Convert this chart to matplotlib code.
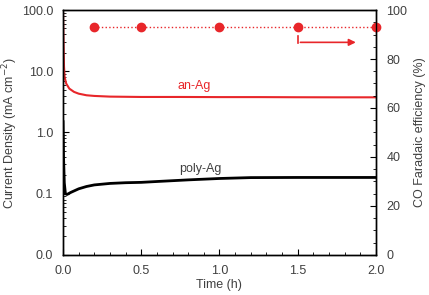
import matplotlib
matplotlib.use("Agg")
import matplotlib.pyplot as plt
from matplotlib.ticker import FixedLocator, LogLocator, MultipleLocator, NullFormatter

plt.rcParams['font.family'] = ['Liberation Sans', 'DejaVu Sans']
plt.rcParams['font.size'] = 9

# current density vs time (mA cm-2)
an_t = [0, 0.003, 0.006, 0.01, 0.02, 0.04, 0.07, 0.1, 0.15, 0.2, 0.3, 0.5, 0.75, 1.0, 1.25, 1.5, 1.75, 2.0]
an_j = [90, 30, 12, 8, 6.3, 5.2, 4.6, 4.3, 4.05, 3.95, 3.85, 3.8, 3.8, 3.78, 3.78, 3.76, 3.75, 3.75]

poly_t = [0, 0.003, 0.008, 0.015, 0.025, 0.05, 0.1, 0.15, 0.2, 0.3, 0.4, 0.5, 0.6, 0.8, 1.0, 1.2, 1.5, 2.0]
poly_j = [1.5, 0.4, 0.15, 0.1, 0.097, 0.105, 0.12, 0.131, 0.139, 0.147, 0.151, 0.153, 0.158, 0.168, 0.177, 0.183, 0.184, 0.184]

# CO faradaic efficiency (%)
fe_t = [0.2, 0.5, 1.0, 1.5, 2.0]
fe = [93, 93, 93, 93, 93]

left_ticks = [0.01, 0.1, 1, 10, 100]
left_labels = ["0.0", "0.1", "1.0", "10.0", "100.0"]

red = "#e8262a"
txt = "#404040"

fig = plt.figure(figsize=(4.29, 2.95), dpi=100)
ax = fig.add_axes([0.147, 0.136, 0.729, 0.830])

ax.plot(an_t, an_j, color=red, lw=1.5)
ax.plot(poly_t, poly_j, color="black", lw=2)
ax.set_yscale("log")
ax.set_ylim(0.01, 100)
ax.set_xlim(0, 2.0)
ax.yaxis.set_major_locator(FixedLocator(left_ticks))
ax.set_yticklabels(left_labels)
ax.yaxis.set_minor_locator(LogLocator(base=10, subs=range(2, 10), numticks=20))
ax.yaxis.set_minor_formatter(NullFormatter())
ax.xaxis.set_major_locator(MultipleLocator(0.5))
ax.xaxis.set_minor_locator(MultipleLocator(0.1))
ax.set_xticks([0, 0.5, 1.0, 1.5, 2.0])
ax.set_xticklabels(["0.0", "0.5", "1.0", "1.5", "2.0"])
ax.tick_params(which="both", direction="in", top=False, right=False, colors="black", labelcolor=txt)
ax.tick_params(which="major", length=4)
ax.tick_params(which="minor", length=2)
ax.tick_params(axis="y", pad=7)
ax.tick_params(axis="x", pad=7)
ax.set_xlabel("Time (h)", color=txt, labelpad=2)
ax.set_ylabel("Current Density (mA cm$^{-2}$)", color=txt, labelpad=1.5)

ax.text(0.84, 5.8, "an-Ag", color=red, ha="center", va="center")
ax.text(0.875, 0.25, "poly-Ag", color=txt, ha="center", va="center")

ax2 = ax.twinx()
ax2.plot(fe_t, fe, color=red, lw=1.0, ls=":", marker="o", ms=6, clip_on=False)
ax2.set_ylim(0, 100)
ax2.yaxis.set_major_locator(MultipleLocator(20))
ax2.yaxis.set_minor_locator(MultipleLocator(5))
ax2.tick_params(which="both", direction="in", colors="black", labelcolor=txt)
ax2.tick_params(which="major", length=4, pad=7.5)
ax2.tick_params(which="minor", length=2)
ax2.set_ylabel("CO Faradaic efficiency (%)", color=txt, labelpad=5)

# arrow pointing to the right axis
ax2.plot([1.5, 1.5], [86.5, 89.5], color=red, lw=1.2)
ax2.annotate("", xy=(1.89, 86.8), xytext=(1.5, 86.8),
             arrowprops=dict(arrowstyle="-|>", color=red, lw=1.2, mutation_scale=10))

for a in (ax, ax2):
    for s in a.spines.values():
        s.set_linewidth(1.0)

fig.savefig("out.png", dpi=100)
